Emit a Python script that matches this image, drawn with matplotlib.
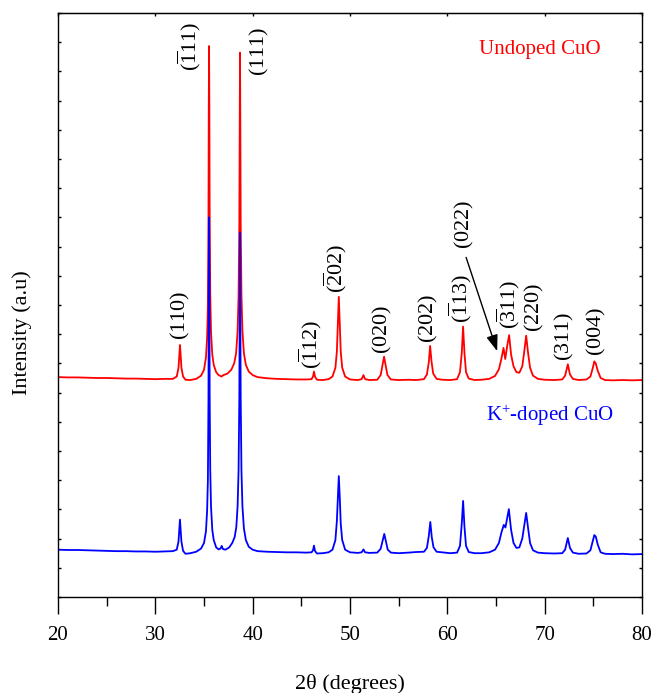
import matplotlib
matplotlib.use("Agg")
import matplotlib.pyplot as plt
from matplotlib.ticker import MultipleLocator, NullFormatter, NullLocator

plt.rcParams['font.family'] = ['Liberation Serif', 'DejaVu Serif']
plt.rcParams['mathtext.fontset'] = 'custom'
plt.rcParams['mathtext.rm'] = 'Liberation Serif'
plt.rcParams['mathtext.it'] = 'Liberation Serif:italic'
plt.rcParams['mathtext.bf'] = 'Liberation Serif:bold'

# ---------------- data ----------------
two_theta_undoped = [
    20.0, 21.0, 22.0, 23.0, 24.0, 25.0, 26.0, 27.0, 28.0, 29.0, 30.0, 31.0, 31.8,
    32.2, 32.38, 32.47, 32.53, 32.6, 32.68, 32.85, 33.1, 33.6, 34.2, 34.7, 35.0,
    35.2, 35.32, 35.4, 35.46, 35.49, 35.52, 35.55, 35.58, 35.64, 35.72, 35.85,
    36.0, 36.25, 36.5, 36.8, 37.0, 37.4, 37.8, 38.1, 38.3, 38.45, 38.55, 38.63,
    38.67, 38.7, 38.73, 38.77, 38.85, 38.95, 39.1, 39.3, 39.6, 40.0, 40.5, 41.5,
    42.5, 43.5, 44.5, 45.5, 46.05, 46.2, 46.3, 46.4, 46.6, 47.2, 47.8, 48.2, 48.5,
    48.65, 48.75, 48.85, 48.95, 49.05, 49.2, 49.5, 50.0, 50.8, 51.2, 51.38, 51.55,
    52.0, 52.8, 53.15, 53.35, 53.5, 53.65, 53.85, 54.2, 55.0, 56.0, 56.8, 57.6,
    57.9, 58.1, 58.23, 58.38, 58.55, 58.9, 59.5, 60.3, 61.0, 61.3, 61.48, 61.62,
    61.76, 61.92, 62.2, 62.8, 63.5, 64.3, 64.9, 65.3, 65.55, 65.77, 65.95, 66.15,
    66.35, 66.55, 66.8, 67.1, 67.4, 67.7, 67.9, 68.1, 68.28, 68.5, 68.8, 69.3,
    70.0, 71.0, 71.8, 72.1, 72.38, 72.6, 72.9, 73.5, 74.3, 74.7, 74.95, 75.1,
    75.25, 75.45, 75.75, 76.2, 77.0, 78.0, 79.0, 80.0]
intensity_undoped = [
    7.53, 7.52, 7.52, 7.51, 7.50, 7.50, 7.49, 7.48, 7.48, 7.47, 7.46, 7.47, 7.47,
    7.55, 7.85, 8.35, 8.63, 8.30, 7.85, 7.55, 7.44, 7.43, 7.47, 7.58, 7.78,
    8.20, 8.90, 10.0, 13.0, 16.8, 18.87, 16.8, 13.3, 10.4, 9.10, 8.30,
    7.95, 7.70, 7.60, 7.55, 7.60, 7.65, 7.78, 8.00, 8.35, 9.10, 10.3, 12.8,
    16.5, 18.64, 16.5, 12.8, 10.3, 9.10, 8.35, 7.95, 7.72, 7.60, 7.53, 7.49,
    7.47, 7.46, 7.45, 7.45, 7.46, 7.55, 7.72, 7.55, 7.44, 7.43, 7.46, 7.55, 7.85,
    8.40, 9.30, 10.28, 9.30, 8.40, 7.85, 7.55, 7.45, 7.43, 7.46, 7.60, 7.46,
    7.43, 7.44, 7.60, 7.95, 8.23, 7.95, 7.60, 7.45, 7.43, 7.44, 7.43, 7.46,
    7.62, 8.05, 8.60, 8.05, 7.65, 7.47, 7.44, 7.43, 7.46, 7.70, 8.35, 9.26,
    8.35, 7.70, 7.48, 7.43, 7.44, 7.47, 7.57, 7.80, 8.15, 8.53, 8.15, 8.60,
    8.97, 8.30, 7.90, 7.70, 7.68, 7.90, 8.40, 8.95, 8.40, 7.85, 7.58, 7.47,
    7.44, 7.43, 7.45, 7.58, 7.97, 7.62, 7.47, 7.43, 7.45, 7.55, 7.85, 8.07,
    8.00, 7.75, 7.50, 7.43, 7.42, 7.43, 7.42, 7.43]

two_theta_doped = [
    20.0, 21.0, 22.0, 23.0, 24.0, 25.0, 26.0, 27.0, 28.0, 29.0, 30.0, 31.0, 31.8,
    32.2, 32.38, 32.47, 32.53, 32.6, 32.68, 32.85, 33.1, 33.6, 34.2, 34.7, 35.0,
    35.2, 35.32, 35.4, 35.46, 35.49, 35.52, 35.55, 35.58, 35.64, 35.72, 35.85,
    36.0, 36.25, 36.5, 36.7, 36.82, 36.95, 37.2, 37.6, 37.9, 38.15, 38.32, 38.45,
    38.55, 38.63, 38.67, 38.7, 38.73, 38.77, 38.85, 38.95, 39.1, 39.3, 39.6, 40.0,
    40.5, 41.5, 42.5, 43.5, 44.5, 45.5, 46.05, 46.2, 46.3, 46.4, 46.6, 47.2, 47.8,
    48.2, 48.5, 48.65, 48.75, 48.85, 48.95, 49.05, 49.2, 49.5, 50.0, 50.8, 51.2,
    51.38, 51.55, 52.0, 52.8, 53.15, 53.35, 53.52, 53.68, 53.88, 54.2, 55.0, 56.0,
    56.8, 57.6, 57.9, 58.1, 58.25, 58.4, 58.58, 58.9, 59.5, 60.3, 61.0, 61.3,
    61.48, 61.62, 61.76, 61.92, 62.2, 62.8, 63.5, 64.3, 64.9, 65.3, 65.55, 65.8,
    65.97, 66.15, 66.32, 66.55, 66.8, 67.1, 67.4, 67.7, 67.9, 68.1, 68.28, 68.5,
    68.8, 69.3, 70.0, 71.0, 71.8, 72.1, 72.38, 72.6, 72.9, 73.5, 74.3, 74.7,
    74.95, 75.1, 75.25, 75.45, 75.75, 76.2, 77.0, 78.0, 79.0, 80.0]
intensity_doped = [
    1.62, 1.61, 1.61, 1.60, 1.59, 1.58, 1.57, 1.57, 1.56, 1.56, 1.55, 1.56, 1.57,
    1.62, 1.90, 2.35, 2.65, 2.30, 1.90, 1.58, 1.48, 1.50, 1.55, 1.66, 1.85,
    2.25, 2.95, 4.00, 6.80, 10.8, 13.0, 10.8, 7.00, 4.40, 3.10, 2.30,
    1.95, 1.70, 1.63, 1.66, 1.75, 1.64, 1.62, 1.70, 1.85, 2.05, 2.40, 3.10,
    4.30, 6.80, 10.3, 12.47, 10.3, 6.80, 4.30, 3.10, 2.35, 1.95, 1.72, 1.62,
    1.57, 1.55, 1.54, 1.53, 1.53, 1.52, 1.53, 1.60, 1.76, 1.58, 1.49, 1.50, 1.53,
    1.62, 1.95, 2.60, 3.40, 4.14, 3.40, 2.50, 1.95, 1.62, 1.53, 1.51, 1.53,
    1.63, 1.53, 1.51, 1.52, 1.65, 1.92, 2.16, 1.92, 1.62, 1.52, 1.50, 1.52,
    1.54, 1.55, 1.68, 2.10, 2.57, 2.05, 1.70, 1.55, 1.53, 1.50, 1.52, 1.75,
    2.50, 3.29, 2.40, 1.75, 1.54, 1.50, 1.50, 1.53, 1.62, 1.85, 2.20, 2.47,
    2.38, 2.70, 3.01, 2.30, 1.85, 1.68, 1.70, 2.00, 2.45, 2.88, 2.40, 1.85,
    1.60, 1.52, 1.50, 1.49, 1.50, 1.62, 2.02, 1.68, 1.52, 1.48, 1.49, 1.60,
    1.92, 2.12, 2.07, 1.80, 1.53, 1.48, 1.47, 1.48, 1.46, 1.47]

hkl_labels = [r'$\mathrm{(110)}$', r'$\mathrm{(\overline{1}11)}$', r'$\mathrm{(111)}$',
              r'$\mathrm{(\overline{1}12)}$', r'$\mathrm{(\overline{2}02)}$', r'$\mathrm{(020)}$',
              r'$\mathrm{(202)}$', r'$\mathrm{(\overline{1}13)}$', r'$\mathrm{(022)}$',
              r'$\mathrm{(\overline{3}11)}$', r'$\mathrm{(220)}$', r'$\mathrm{(311)}$',
              r'$\mathrm{(004)}$']
x_ticks = [20, 30, 40, 50, 60, 70, 80]

# ---------------- layout ----------------
hkl_pos = [(32.54, 9.66), (33.45, 18.87), (40.66, 18.70),
           (45.95, 8.66), (48.47, 11.27), (53.35, 9.18),
           (58.08, 9.55), (61.30, 10.24), (61.73, 12.77),
           (66.30, 10.03), (68.92, 9.91), (72.00, 8.92),
           (75.29, 9.09)]

fig = plt.figure(figsize=(6.54, 6.93), dpi=100)
ax = fig.add_axes([58/654, 1-597/693, 584/654, 584/693])

ax.plot(two_theta_undoped, intensity_undoped, color='#ff0000', lw=1.3)
ax.plot(two_theta_doped, intensity_doped, color='#0000ff', lw=1.3)

ax.set_xlim(20, 80)
ax.set_ylim(0, 20)
ax.set_xticks(x_ticks)
ax.xaxis.set_minor_locator(MultipleLocator(5))
ax.yaxis.set_major_locator(MultipleLocator(1))
ax.yaxis.set_major_formatter(NullFormatter())

ax.tick_params(axis='x', which='major', direction='out', length=12, width=1,
               labelsize=15, pad=9, top=False)
ax.tick_params(axis='x', which='minor', direction='out', length=6.5, width=1, top=False)
ax.tick_params(axis='y', which='major', direction='in', length=2, width=1,
               left=True, right=True)
# top ticks (inward, majors only)
sec = ax.secondary_xaxis('top')
sec.set_xticks(x_ticks)
sec.tick_params(axis='x', direction='in', length=2.5, width=1, labeltop=False)
sec.xaxis.set_minor_locator(NullLocator())

for sp in ax.spines.values():
    sp.set_linewidth(1.0)

ax.set_xlabel('2θ (degrees)', fontsize=16)
ax.xaxis.set_label_coords(0.5, -0.149)
ax.xaxis.label.set_va('center')
ax.set_ylabel('Intensity (a.u)', fontsize=16)
ax.yaxis.set_label_coords(-0.062, 0.452)
ax.yaxis.label.set_va('center')

for lab, (px, py) in zip(hkl_labels, hkl_pos):
    ax.text(px, py, lab, rotation=90, ha='center', va='center', fontsize=16)

ax.annotate('', xy=(65.12, 8.42), xytext=(61.93, 11.63),
            arrowprops=dict(arrowstyle='-|>,head_length=0.7,head_width=0.25',
                            color='black', lw=1, mutation_scale=14,
                            shrinkA=0, shrinkB=0))

ax.text(69.5, 18.75, 'Undoped CuO', color='#ff0000', fontsize=15,
        ha='center', va='center')
ax.text(70.5, 6.23, r'K$^{+}$-doped CuO', color='#0000ff', fontsize=15,
        ha='center', va='center')

fig.savefig('out.png', dpi=100)
